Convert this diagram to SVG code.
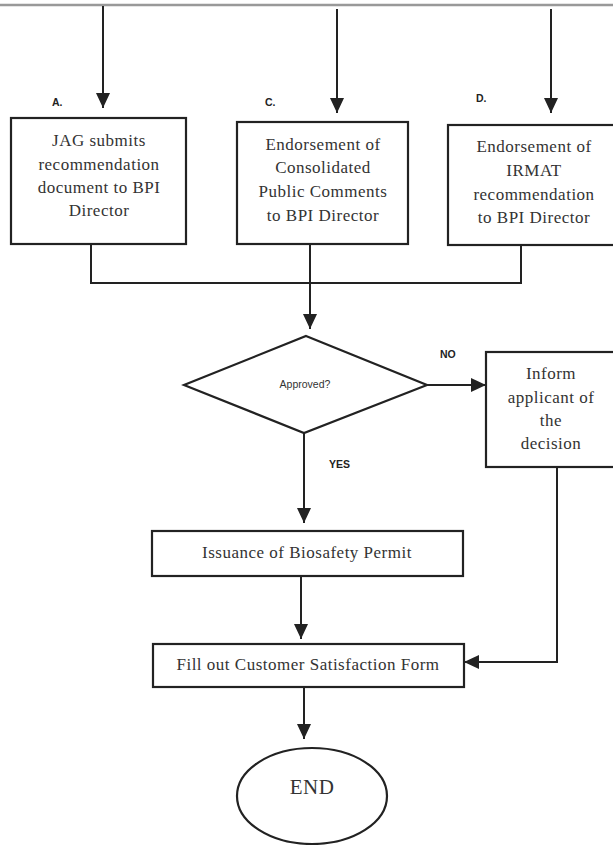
<svg xmlns="http://www.w3.org/2000/svg" width="613" height="845" viewBox="0 0 613 845">
<style>
.box{fill:#fff;stroke:#222;stroke-width:2.2}
.ln{fill:none;stroke:#222;stroke-width:2}
.t{font-family:"Liberation Serif",serif;font-size:17px;fill:#333;text-anchor:middle;letter-spacing:0.5px}
.lab{font-family:"Liberation Sans",sans-serif;font-size:10.5px;font-weight:bold;fill:#222}
.s{font-family:"Liberation Sans",sans-serif;font-size:10.5px;fill:#333;text-anchor:middle}
</style>
<defs>
<marker id="ah" markerWidth="15" markerHeight="14" refX="15" refY="7" orient="auto" markerUnits="userSpaceOnUse" viewBox="0 0 15 14">
<path d="M0,0 L15,7 L0,14 Z" fill="#222"/>
</marker>
</defs>
<rect width="613" height="845" fill="#fff"/>
<line x1="0" y1="5" x2="613" y2="5" stroke="#999" stroke-width="2.5"/>
<g id="connectors">
<line class="ln" x1="103" y1="6" x2="103" y2="108" marker-end="url(#ah)"/>
<line class="ln" x1="337" y1="9" x2="337" y2="113" marker-end="url(#ah)"/>
<line class="ln" x1="551" y1="9" x2="551" y2="113" marker-end="url(#ah)"/>
<polyline class="ln" points="91,244 91,283 521,283 521,245"/>
<line class="ln" x1="310" y1="244" x2="310" y2="329" marker-end="url(#ah)"/>
<line class="ln" x1="427" y1="385" x2="486" y2="385" marker-end="url(#ah)"/>
<line class="ln" x1="304" y1="433" x2="304" y2="523" marker-end="url(#ah)"/>
<line class="ln" x1="301" y1="576" x2="301" y2="639" marker-end="url(#ah)"/>
<polyline class="ln" points="557,467 557,662 464,662" marker-end="url(#ah)"/>
<line class="ln" x1="304" y1="687" x2="304" y2="739" marker-end="url(#ah)"/>
<text class="lab" x="440" y="358">NO</text>
<text class="lab" x="329" y="468">YES</text>
</g>
<g id="nodeA">
<text class="lab" x="52" y="106">A.</text>
<rect class="box" x="11" y="118" width="175" height="126"/>
<text class="t" x="99" y="146">JAG submits</text>
<text class="t" x="99" y="170">recommendation</text>
<text class="t" x="99" y="193">document to BPI</text>
<text class="t" x="99" y="216">Director</text>
</g>
<g id="nodeC">
<text class="lab" x="265" y="106">C.</text>
<rect class="box" x="237" y="122" width="171" height="122"/>
<text class="t" x="323" y="150">Endorsement of</text>
<text class="t" x="323" y="173">Consolidated</text>
<text class="t" x="323" y="197">Public Comments</text>
<text class="t" x="323" y="221">to BPI Director</text>
</g>
<g id="nodeD">
<text class="lab" x="476" y="102">D.</text>
<rect class="box" x="448" y="125" width="175" height="120"/>
<text class="t" x="534" y="152">Endorsement of</text>
<text class="t" x="534" y="176">IRMAT</text>
<text class="t" x="534" y="200">recommendation</text>
<text class="t" x="534" y="223">to BPI Director</text>
</g>
<g id="decision">
<polygon class="box" points="306,336 427,385 304,433 184,385"/>
<text class="s" x="305" y="388">Approved?</text>
</g>
<g id="inform">
<rect class="box" x="486" y="352" width="137" height="115"/>
<text class="t" x="551" y="379">Inform</text>
<text class="t" x="551" y="403">applicant of</text>
<text class="t" x="551" y="426">the</text>
<text class="t" x="551" y="449">decision</text>
</g>
<g id="issuance">
<rect class="box" x="152" y="531" width="311" height="45"/>
<text class="t" x="307" y="558">Issuance of Biosafety Permit</text>
</g>
<g id="fillout">
<rect class="box" x="153" y="644" width="311" height="43"/>
<text class="t" x="308" y="670">Fill out Customer Satisfaction Form</text>
</g>
<g id="end">
<ellipse class="box" cx="312" cy="796" rx="75" ry="48" stroke-width="1.6"/>
<text class="t" x="312" y="794" style="font-size:21px">END</text>
</g>
</svg>
